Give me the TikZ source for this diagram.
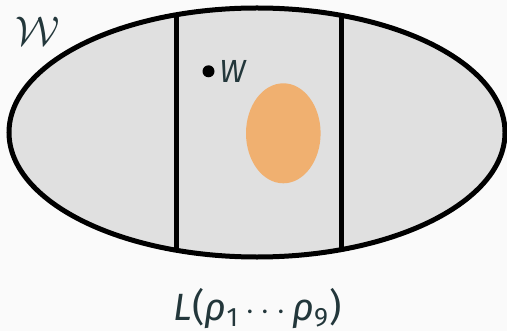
\documentclass[tikz,border=0pt]{standalone}
\usepackage{fontspec}
\setmainfont{Fira Sans}
\usepackage{xcolor}
\usepackage{tikz}
\usetikzlibrary{positioning}
\definecolor{darkteal}{HTML}{23373B}
\definecolor{regiongray}{HTML}{E0E0E0}
\definecolor{bloborange}{HTML}{F0B070}
\definecolor{paper}{HTML}{FAFAFA}
\tikzstyle{region} = [fill=regiongray, line width=2.5pt]
\tikzstyle{cutline} = [draw=black, line width=2.5pt]
\tikzstyle{blob} = [fill=bloborange]
\tikzstyle{pointdot} = [circle, fill=black, inner sep=0pt, minimum size=6pt]
\tikzstyle{tagtext} = [text=darkteal, inner sep=0pt]

\begin{document}
\begin{tikzpicture}[x=0.5pt, y=-0.5pt]
\fill[paper] (0,0) rectangle (507,331);
\useasboundingbox (0,0) rectangle (507,331);
\coordinate (centre) at (257,132.5);
\fill[region] (centre) ellipse [x radius=124pt, y radius=62.25pt];
\begin{scope}
\clip (centre) ellipse [x radius=124pt, y radius=62.25pt];
\draw[cutline] (176.2,0) -- (176.2,270);
\draw[cutline] (341,0) -- (341,270);
\end{scope}
\draw[line width=2.5pt] (centre) ellipse [x radius=124pt, y radius=62.25pt];
\fill[blob] (283.3,133.3) ellipse [x radius=18.65pt, y radius=25pt];

\node (spacew) [tagtext] at (38,31) {\fontsize{20}{24}\selectfont$\mathcal{W}$};
\node (pointw) [pointdot] at (208.5,71.3) {};
\node (labelw) [tagtext, right=2pt of pointw] {\fontsize{16}{19}\selectfont\itshape W};
\node (family) [tagtext, anchor=base] at (257.5,320.5)
  {\fontsize{19}{23}\selectfont\textit{L}(\textit{ρ}\textsubscript{1}\,$\cdots$\,\textit{ρ}\textsubscript{9})};
\end{tikzpicture}
\end{document}
